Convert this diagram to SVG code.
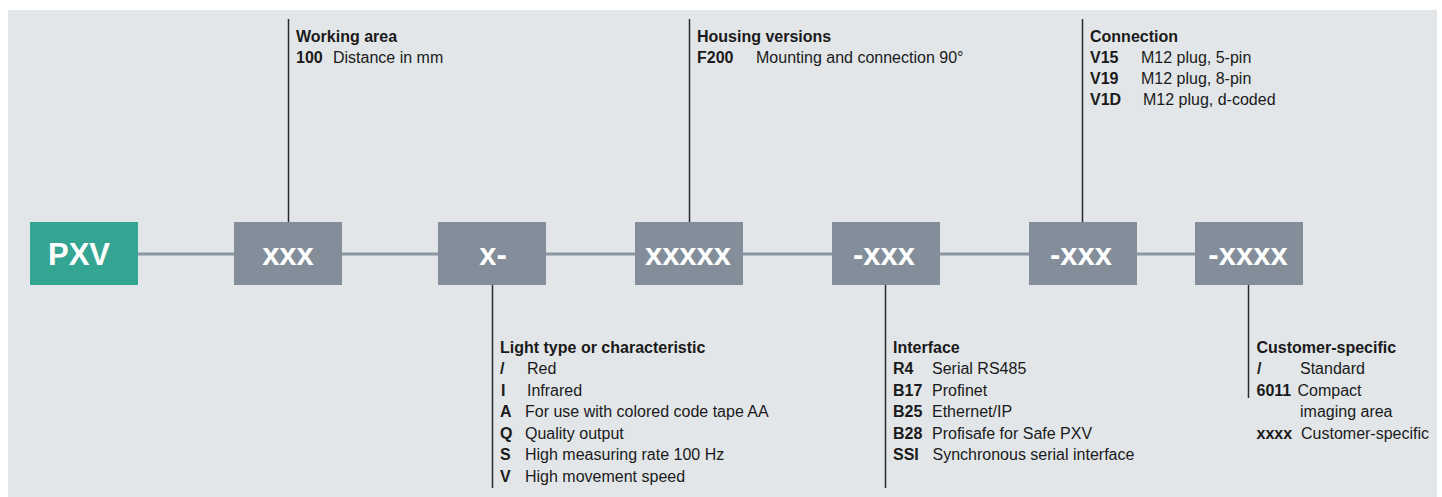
<svg xmlns="http://www.w3.org/2000/svg" width="1442" height="497" viewBox="0 0 1442 497">
<style>
.bg{fill:#e2e6e9}
.box{fill:#838e9a}
.pxv{fill:#35a593}
.bt{font-family:"Liberation Sans",Arial,sans-serif;font-weight:bold;font-size:31px;fill:#ffffff;text-anchor:middle}
.t{font-family:"Liberation Sans",Arial,sans-serif;font-size:16px;fill:#1a1a1a}
.b{font-weight:bold}
.lead{stroke:#2a2a2a;stroke-width:1.5;fill:none}
.link{stroke:#8c96a1;stroke-width:3;fill:none}
</style>
<rect class="bg" x="8" y="10" width="1429" height="487"/>
<g id="connectors">
<line class="link" x1="138" y1="254" x2="234" y2="254"/>
<line class="link" x1="342" y1="254" x2="438" y2="254"/>
<line class="link" x1="546" y1="254" x2="635" y2="254"/>
<line class="link" x1="743" y1="254" x2="832" y2="254"/>
<line class="link" x1="940" y1="254" x2="1029" y2="254"/>
<line class="link" x1="1137" y1="254" x2="1195" y2="254"/>
<line class="lead" x1="288.5" y1="19" x2="288.5" y2="222"/>
<line class="lead" x1="689.5" y1="19" x2="689.5" y2="222"/>
<line class="lead" x1="1082.5" y1="19" x2="1082.5" y2="222"/>
<line class="lead" x1="492.5" y1="285" x2="492.5" y2="488"/>
<line class="lead" x1="885.5" y1="285" x2="885.5" y2="488"/>
<line class="lead" x1="1248.5" y1="285" x2="1248.5" y2="398"/>
</g>
<g id="node-pxv"><rect class="pxv" x="30" y="222" width="108" height="63"/><text class="bt" x="79" y="265">PXV</text></g>
<g id="node-working-area"><rect class="box" x="234" y="222" width="108" height="63"/><text class="bt" x="288" y="265">xxx</text></g>
<g id="node-light-type"><rect class="box" x="438" y="222" width="108" height="63"/><text class="bt" x="493" y="265">x-</text></g>
<g id="node-housing"><rect class="box" x="635" y="222" width="108" height="63"/><text class="bt" x="688" y="265">xxxxx</text></g>
<g id="node-interface"><rect class="box" x="832" y="222" width="108" height="63"/><text class="bt" x="884" y="265">-xxx</text></g>
<g id="node-connection"><rect class="box" x="1029" y="222" width="108" height="63"/><text class="bt" x="1081" y="265">-xxx</text></g>
<g id="node-customer"><rect class="box" x="1195" y="222" width="108" height="63"/><text class="bt" x="1248" y="265">-xxxx</text></g>
<g id="label-working-area" class="t">
<text x="296" y="42" class="b">Working area</text>
<text x="296" y="63" class="b">100</text><text x="333" y="63">Distance in mm</text>
</g>
<g id="label-housing" class="t">
<text x="697" y="42" class="b">Housing versions</text>
<text x="697" y="63" class="b">F200</text><text x="756" y="63">Mounting and connection 90°</text>
</g>
<g id="label-connection" class="t">
<text x="1090" y="42" class="b">Connection</text>
<text x="1090" y="63" class="b">V15</text><text x="1141" y="63">M12 plug, 5-pin</text>
<text x="1090" y="84" class="b">V19</text><text x="1141" y="84">M12 plug, 8-pin</text>
<text x="1090" y="105" class="b">V1D</text><text x="1143" y="105">M12 plug, d-coded</text>
</g>
<g id="label-light-type" class="t">
<text x="500" y="353" class="b">Light type or characteristic</text>
<text x="500" y="374" class="b">/</text><text x="527" y="374">Red</text>
<text x="501" y="396" class="b">I</text><text x="527" y="396">Infrared</text>
<text x="500" y="417" class="b">A</text><text x="525" y="417">For use with colored code tape AA</text>
<text x="500" y="438.5" class="b">Q</text><text x="525" y="438.5">Quality output</text>
<text x="500" y="460" class="b">S</text><text x="525" y="460">High measuring rate 100 Hz</text>
<text x="500" y="481.5" class="b">V</text><text x="525" y="481.5">High movement speed</text>
</g>
<g id="label-interface" class="t">
<text x="893" y="353" class="b">Interface</text>
<text x="893" y="374" class="b">R4</text><text x="932" y="374">Serial RS485</text>
<text x="893" y="396" class="b">B17</text><text x="932" y="396">Profinet</text>
<text x="893" y="417" class="b">B25</text><text x="932" y="417">Ethernet/IP</text>
<text x="893" y="438.5" class="b">B28</text><text x="932" y="438.5">Profisafe for Safe PXV</text>
<text x="893" y="460" class="b">SSI</text><text x="932.5" y="460">Synchronous serial interface</text>
</g>
<g id="label-customer" class="t">
<text x="1256.5" y="353" class="b">Customer-specific</text>
<text x="1257" y="374" class="b">/</text><text x="1300" y="374">Standard</text>
<text x="1256.5" y="396" class="b">6011</text><text x="1297.5" y="396">Compact</text>
<text x="1300" y="417">imaging area</text>
<text x="1256.5" y="438.5" class="b">xxxx</text><text x="1301" y="438.5">Customer-specific</text>
</g>
</svg>
